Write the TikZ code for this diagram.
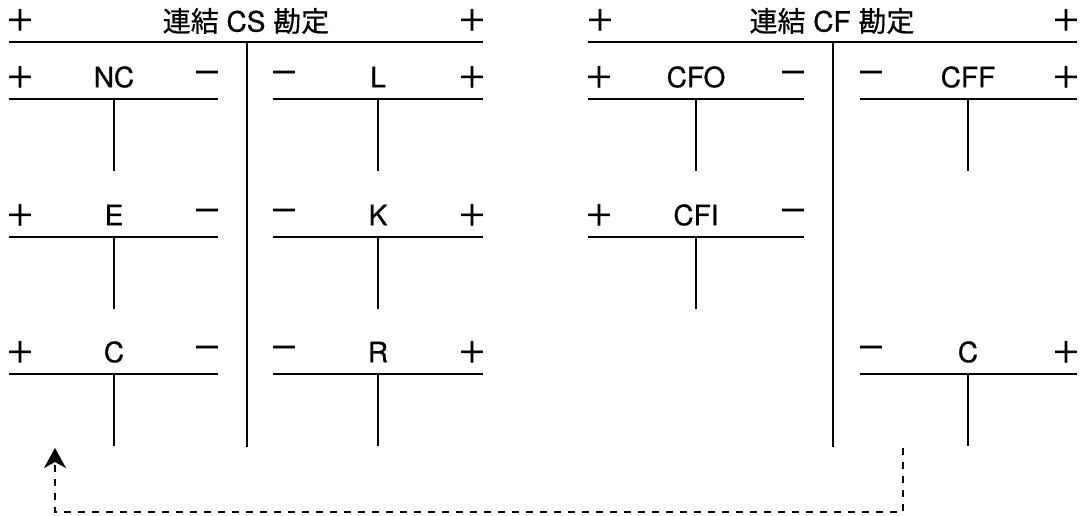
\documentclass[tikz,border=0pt]{standalone}
\usepackage{fontspec}
\setmainfont{TeX Gyre Heros}[FakeBold=0.8]
\newfontfamily\cjk{Noto Sans CJK JP}[FakeBold=0.6]
\newfontfamily\signfont{Noto Sans CJK JP}[FakeBold=2.2]
\usetikzlibrary{arrows.meta}
\tikzset{
  hline/.style={line width=2.5pt},
  vline/.style={line width=2.4pt},
  lbl/.style={inner sep=0pt, font=\fontsize{28}{28}\selectfont},
  sgn/.style={inner sep=0pt, font=\signfont\fontsize{29}{29}\selectfont},
  ttl/.style={inner sep=0pt, font=\fontsize{28}{28}\selectfont},
  dashconn/.style={line width=2.3pt, dash pattern=on 7pt off 7pt, -{Stealth[length=20pt,width=22pt,inset=6pt]}},
}
% \TAcct{name}{xl}{xr}{cx}{liney}{leftsign}{label}{rightsign}
\newcommand{\TAcct}[8]{%
  \coordinate (#1-l) at (#2,#5);
  \coordinate (#1-r) at (#3,#5);
  \coordinate (#1-t) at (#4,#5);
  \coordinate (#1-b) at (#4,#5+72);
  \draw[hline] (#1-l) -- (#1-r);
  \draw[vline] (#1-t) -- (#1-b);
  \node[sgn] (#1-ls) at (#2+11,#5-22) {#6};
  \node[lbl] (#1-lab) at (#4,#5-22) {#7};
  \node[sgn] (#1-rs) at (#3-11,#5-22) {#8};
}
\begin{document}
\begin{tikzpicture}[x=1pt,y=-1pt]
\useasboundingbox (0,0) rectangle (1084,515);
% ---- left main account
\coordinate (csl) at (9,42);
\coordinate (csr) at (483,42);
\coordinate (cst) at (247,42);
\coordinate (csb) at (247,447);
\draw[hline] (csl) -- (csr);
\draw[vline] (cst) -- (csb);
\node[sgn] (csps1) at (20,20) {＋};
\node[ttl] (cstitle) at (246,21) {{\cjk 連結} CS {\cjk 勘定}};
\node[sgn] (csps2) at (472,20) {＋};
\TAcct{nc}{9}{218}{114}{99}{＋}{NC}{－}
\TAcct{e}{9}{218}{114}{237}{＋}{E}{－}
\TAcct{c}{9}{218}{114}{374}{＋}{C}{－}
\TAcct{l}{273}{483}{378}{99}{－}{L}{＋}
\TAcct{k}{273}{483}{378}{237}{－}{K}{＋}
\TAcct{r}{273}{483}{378}{374}{－}{R}{＋}
% ---- right main account
\coordinate (cfl) at (588,42);
\coordinate (cfr) at (1077,42);
\coordinate (cft) at (833,42);
\coordinate (cfb) at (833,447);
\draw[hline] (cfl) -- (cfr);
\draw[vline] (cft) -- (cfb);
\node[sgn] (cfps1) at (600,20) {＋};
\node[ttl] (cftitle) at (832,21) {{\cjk 連結} CF {\cjk 勘定}};
\node[sgn] (cfps2) at (1066,20) {＋};
\TAcct{cfo}{588}{804}{696}{99}{＋}{CFO}{－}
\TAcct{cfi}{588}{804}{696}{237}{＋}{CFI}{－}
\TAcct{cff}{860}{1077}{968}{99}{－}{CFF}{＋}
\TAcct{cc}{860}{1077}{968}{374}{－}{C}{＋}
% ---- dashed arrow
\coordinate (dstart) at (903,448);
\coordinate (dend) at (55,448);
\draw[dashconn] (dstart) -- (903,512) -- (55,512) -- (dend);
\end{tikzpicture}
\end{document}
